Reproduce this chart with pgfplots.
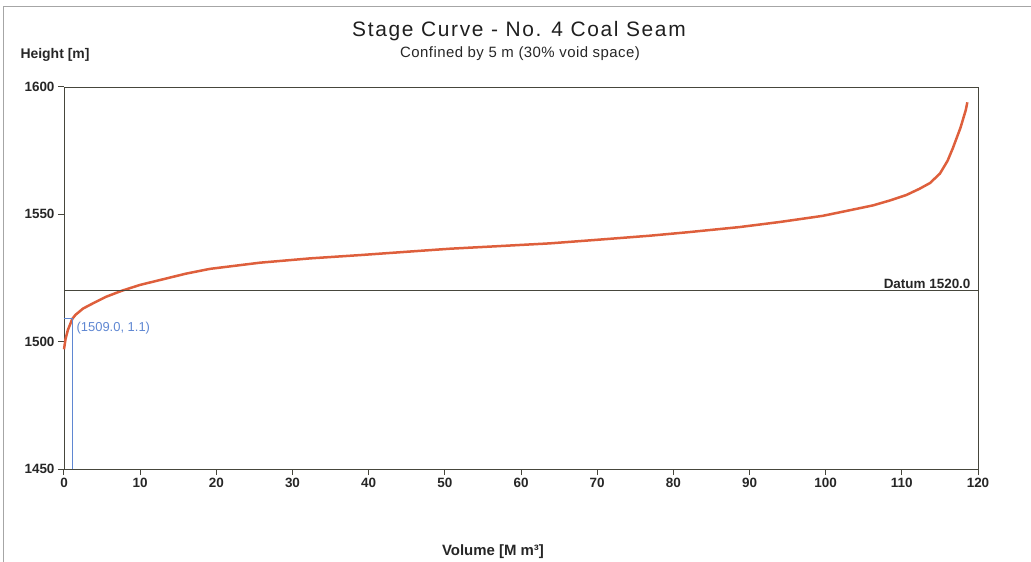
\documentclass[border=0pt]{standalone}
\usepackage{fontspec}
\setmainfont{Liberation Sans}
\usepackage{pgfplots}
\pgfplotsset{compat=1.18}
\definecolor{curve}{RGB}{222,95,60}
\definecolor{annot}{RGB}{95,135,210}
\definecolor{axisgray}{RGB}{70,70,60}
\begin{document}
\begin{tikzpicture}
% page = 1031 x 562, axis lower-left at pixel (64,469)
\useasboundingbox (-64bp,-93bp) rectangle (967bp,469bp);
\draw[gray!70, line width=1bp] (-60bp,-93bp) -- (-60bp,462bp) -- (967bp,462bp);
\begin{axis}[
    at={(0,0)}, anchor=origin,
    scale only axis,
    width=914bp, height=382bp,
    xmin=0, xmax=120, ymin=1450, ymax=1600,
    xtick={0,10,...,120},
    ytick={1450,1500,1550,1600},
    tick pos=left,
    tick align=outside,
    major tick length=6bp,
    axis line style={axisgray, line width=0.8bp},
    every tick/.style={axisgray, line width=1bp},
    every tick label/.append style={font=\fontsize{13.5}{15}\selectfont\bfseries, text=black!85},
    /pgf/number format/assume math mode=true,
    /pgf/number format/set thousands separator={},
    clip=false,
]
\addplot[curve, line width=2.5bp] coordinates {
    (0,1497) (0.2,1501) (0.5,1504.5) (1.1,1509) (1.5,1510.5) (2.5,1513)
    (3.9,1515.2) (5.5,1517.6) (7.6,1520) (10,1522.3) (12.6,1524.2)
    (16,1526.7) (19.2,1528.6) (25.7,1531) (32.3,1532.7) (38.9,1534)
    (45,1535.3) (50.7,1536.5) (57,1537.5) (63.8,1538.6) (70,1540)
    (76.9,1541.6) (82,1543) (88.7,1545) (94,1547) (99.6,1549.4)
    (103,1551.5) (106.2,1553.5) (108.5,1555.5) (110.6,1557.6)
    (112.3,1560) (113.7,1562.3) (115,1566) (116,1571) (116.7,1576)
    (117.2,1580) (117.7,1584) (118,1587) (118.4,1591) (118.6,1594)
};
% datum line
\addplot[axisgray, line width=0.9bp] coordinates {(0,1520) (120,1520)};
\node[anchor=south east, font=\fontsize{13.5}{15}\selectfont\bfseries, text=black!85, inner sep=2bp]
    at (axis cs:119.3,1520) {Datum 1520.0};
% annotation lines
\addplot[annot, line width=1bp] coordinates {(0,1509) (1.1,1509) (1.1,1450)};
\node[anchor=north west, font=\fontsize{13}{15}\selectfont, text=annot, inner sep=1bp]
    at (axis cs:1.5,1508.3) {(1509.0, 1.1)};
\end{axis}
% titles and labels
\node[font=\fontsize{21}{24}\selectfont\addfontfeatures{LetterSpace=8}, text=black!88] at (455bp,438bp) {Stage Curve - No. 4 Coal Seam};
\node[font=\fontsize{15}{18}\selectfont\addfontfeatures{LetterSpace=3}, text=black!85] at (456bp,415bp) {Confined by 5 m (30\% void space)};
\node[font=\fontsize{14}{16}\selectfont\bfseries, text=black!85] at (-9bp,414bp) {Height [m]};
\node[font=\fontsize{15}{18}\selectfont\bfseries, text=black!85] at (429bp,-83bp) {Volume [M m³]};
\end{tikzpicture}
\end{document}
